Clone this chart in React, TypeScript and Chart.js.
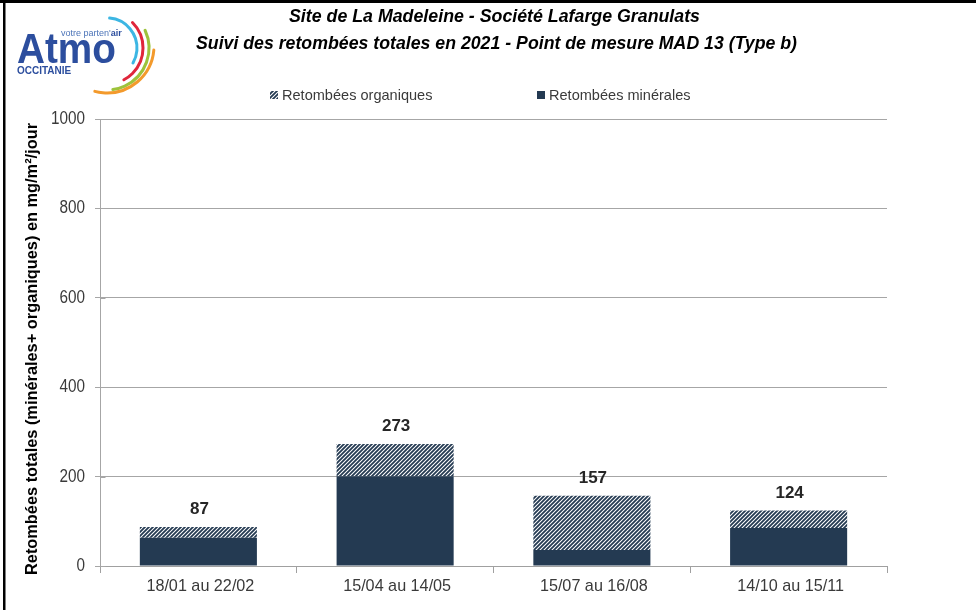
import React, { useEffect, useRef } from "react";
import { Chart, registerables } from "chart.js";

Chart.register(...registerables);

const categories = ["18/01 au 22/02", "15/04 au 14/05", "15/07 au 16/08", "14/10 au 15/11"];
const mineralValues = [63, 201, 36, 85];
const organicValues = [24, 72, 121, 39];
const totalLabels = ["87", "273", "157", "124"];
const yTicks = [0, 200, 400, 600, 800, 1000];

const titleLine1 = "Site de La Madeleine - Société Lafarge Granulats";
const titleLine2 = "Suivi des retombées totales en 2021 - Point de mesure MAD 13 (Type b)";
const yTitle = "Retombées totales (minérales+ organiques) en mg/m²/jour";
const legendOrganic = "Retombées organiques";
const legendMineral = "Retombées minérales";

const NAVY = "#243A52";
const FONT = "'Liberation Sans', Arial, sans-serif";
const TEXT = "#3a3a3a";

function makeHatch(): CanvasPattern | string {
  const c = document.createElement("canvas");
  const s = 4;
  c.width = s;
  c.height = s;
  const x = c.getContext("2d");
  if (!x) return NAVY;
  x.fillStyle = "#ffffff";
  x.fillRect(0, 0, s, s);
  x.strokeStyle = NAVY;
  x.lineWidth = 1.8;
  x.beginPath();
  for (let k = -1; k <= 1; k++) {
    x.moveTo(k * s - 1, s + 1);
    x.lineTo(k * s + s + 1, -1);
  }
  x.stroke();
  const p = x.createPattern(c, "repeat");
  return p || NAVY;
}

function drawScaled(ctx: CanvasRenderingContext2D, text: string, x: number, y: number, sx: number, align: string) {
  const w = ctx.measureText(text).width * sx;
  let left = x;
  if (align === "center") left = x - w / 2;
  else if (align === "right") left = x - w;
  ctx.save();
  ctx.textAlign = "left";
  ctx.translate(left, y);
  ctx.scale(sx, 1);
  ctx.fillText(text, 0, 0);
  ctx.restore();
}

function fitScale(ctx: CanvasRenderingContext2D, text: string, target: number) {
  return target / ctx.measureText(text).width;
}

export default function App() {
  const ref = useRef<HTMLCanvasElement | null>(null);

  useEffect(() => {
    const canvas = ref.current;
    if (!canvas) return;
    const hatch = makeHatch();

    const decor = {
      id: "decor",
      beforeDraw(chart: any) {
        const ctx = chart.ctx;
        ctx.save();
        ctx.fillStyle = "#ffffff";
        ctx.fillRect(0, 0, chart.width, chart.height);
        ctx.restore();
      },
      afterDraw(chart: any) {
        const ctx: CanvasRenderingContext2D = chart.ctx;
        const yScale = chart.scales.y;
        const xScale = chart.scales.x;
        const axisX = Math.round(chart.chartArea.left) + 0.5;
        ctx.save();

        ctx.fillStyle = "#000000";
        ctx.fillRect(0, 0, chart.width, 3);
        ctx.fillRect(3, 0, 2.5, chart.height);

        ctx.strokeStyle = "#A6A6A6";
        ctx.lineWidth = 1;
        yTicks.forEach((v) => {
          const py = Math.round(yScale.getPixelForValue(v)) + 0.5;
          ctx.beginPath();
          ctx.moveTo(axisX, py);
          ctx.lineTo(axisX + 5, py);
          ctx.stroke();
        });

        ctx.fillStyle = TEXT;
        ctx.textBaseline = "middle";
        ctx.font = `18px ${FONT}`;
        const syT = fitScale(ctx, "1000", 34);
        yTicks.forEach((v) => {
          const py = yScale.getPixelForValue(v);
          drawScaled(ctx, String(v), 85, py, syT, "right");
        });

        ctx.font = `17px ${FONT}`;
        const sxT = fitScale(ctx, categories[0], 108);
        categories.forEach((c, i) => {
          const px = xScale.getPixelForValue(i);
          drawScaled(ctx, c, px + 2, 586, sxT, "center");
        });

        ctx.fillStyle = "#000000";
        ctx.textBaseline = "middle";
        ctx.font = `italic bold 18px ${FONT}`;
        drawScaled(ctx, titleLine1, 494.5, 17.5, fitScale(ctx, titleLine1, 411), "center");
        drawScaled(ctx, titleLine2, 496.5, 44, fitScale(ctx, titleLine2, 601), "center");

        ctx.font = `15px ${FONT}`;
        ctx.fillStyle = hatch as any;
        ctx.fillRect(270, 91, 8, 8);
        ctx.fillStyle = TEXT;
        drawScaled(ctx, legendOrganic, 282, 96, 0.97, "left");
        ctx.fillStyle = NAVY;
        ctx.fillRect(537, 91, 8, 8);
        ctx.fillStyle = TEXT;
        drawScaled(ctx, legendMineral, 549, 96, 0.97, "left");

        ctx.save();
        ctx.translate(33, 349);
        ctx.rotate(-Math.PI / 2);
        ctx.textBaseline = "middle";
        ctx.font = `bold 16px ${FONT}`;
        ctx.fillStyle = "#000000";
        drawScaled(ctx, yTitle, 0, 0, fitScale(ctx, yTitle, 452), "center");
        ctx.restore();

        ctx.font = `bold 17px ${FONT}`;
        ctx.fillStyle = "#262626";
        ctx.textAlign = "center";
        ctx.textBaseline = "alphabetic";
        categories.forEach((_, i) => {
          const total = mineralValues[i] + organicValues[i];
          const px = xScale.getPixelForValue(i);
          const py = yScale.getPixelForValue(total);
          ctx.fillText(totalLabels[i], px + 1, py - 13);
        });

        ctx.save();
        ctx.fillStyle = "#2C4E9E";
        ctx.textAlign = "left";
        ctx.textBaseline = "alphabetic";
        ctx.save();
        ctx.translate(17, 63);
        ctx.scale(0.9, 1);
        ctx.font = `bold 43px ${FONT}`;
        ctx.fillText("Atmo", 0, 0);
        ctx.restore();
        ctx.font = `bold 10px ${FONT}`;
        ctx.fillText("OCCITANIE", 17, 74);
        ctx.fillStyle = "#4C74B8";
        ctx.font = `9px ${FONT}`;
        ctx.fillText("votre parten'", 61, 36);
        const w = ctx.measureText("votre parten'").width;
        ctx.font = `bold 9px ${FONT}`;
        ctx.fillStyle = "#2C4E9E";
        ctx.fillText("air", 61 + w, 36);
        const arcs: [string, number, number, number, number, number][] = [
          ["#3CB6E3", 107, 48, 30, -85, 30],
          ["#E0263B", 107, 48, 36, -45, 62],
          ["#9DC33B", 107, 48, 42, -25, 82],
          ["#F39A2C", 107, 46, 47, 5, 105],
        ];
        ctx.lineCap = "round";
        ctx.lineWidth = 3;
        arcs.forEach(([col, cx, cy, r, a0, a1]) => {
          ctx.strokeStyle = col;
          ctx.beginPath();
          ctx.arc(cx, cy, r, (a0 * Math.PI) / 180, (a1 * Math.PI) / 180);
          ctx.stroke();
        });
        ctx.restore();

        ctx.restore();
      },
    };

    const chart = new Chart(canvas, {
      type: "bar",
      data: {
        labels: categories,
        datasets: [
          {
            label: legendMineral,
            data: mineralValues,
            backgroundColor: NAVY,
            barPercentage: 0.595,
            categoryPercentage: 1.0,
          },
          {
            label: legendOrganic,
            data: organicValues,
            backgroundColor: hatch as any,
            barPercentage: 0.595,
            categoryPercentage: 1.0,
          },
        ],
      },
      options: {
        responsive: false,
        animation: false,
        layout: { padding: { top: 119, right: 89, bottom: 0, left: 0 } },
        plugins: {
          legend: { display: false },
          title: { display: false },
          tooltip: { enabled: false },
        },
        scales: {
          x: {
            stacked: true,
            offset: true,
            grid: {
              display: true,
              drawOnChartArea: false,
              drawTicks: true,
              tickLength: 7,
              color: "#A0A0A0",
              offset: true,
            },
            border: { color: "#A0A0A0", width: 1 },
            ticks: { display: false },
            afterFit: (s: any) => {
              s.height = 44;
            },
          },
          y: {
            stacked: true,
            min: 0,
            max: 1000,
            afterBuildTicks: (s: any) => {
              s.ticks = yTicks.map((v) => ({ value: v }));
            },
            ticks: { display: false },
            grid: { color: "#A6A6A6", tickLength: 5, drawTicks: true },
            border: { color: "#A6A6A6", width: 1 },
            afterFit: (s: any) => {
              s.width = 100;
            },
          },
        },
      },
      plugins: [decor],
    });

    return () => chart.destroy();
  }, []);

  return (
    <div style={{ position: "absolute", left: 0, top: 0, width: 976, height: 610 }}>
      <canvas ref={ref} width={976} height={610} style={{ display: "block" }} />
    </div>
  );
}
